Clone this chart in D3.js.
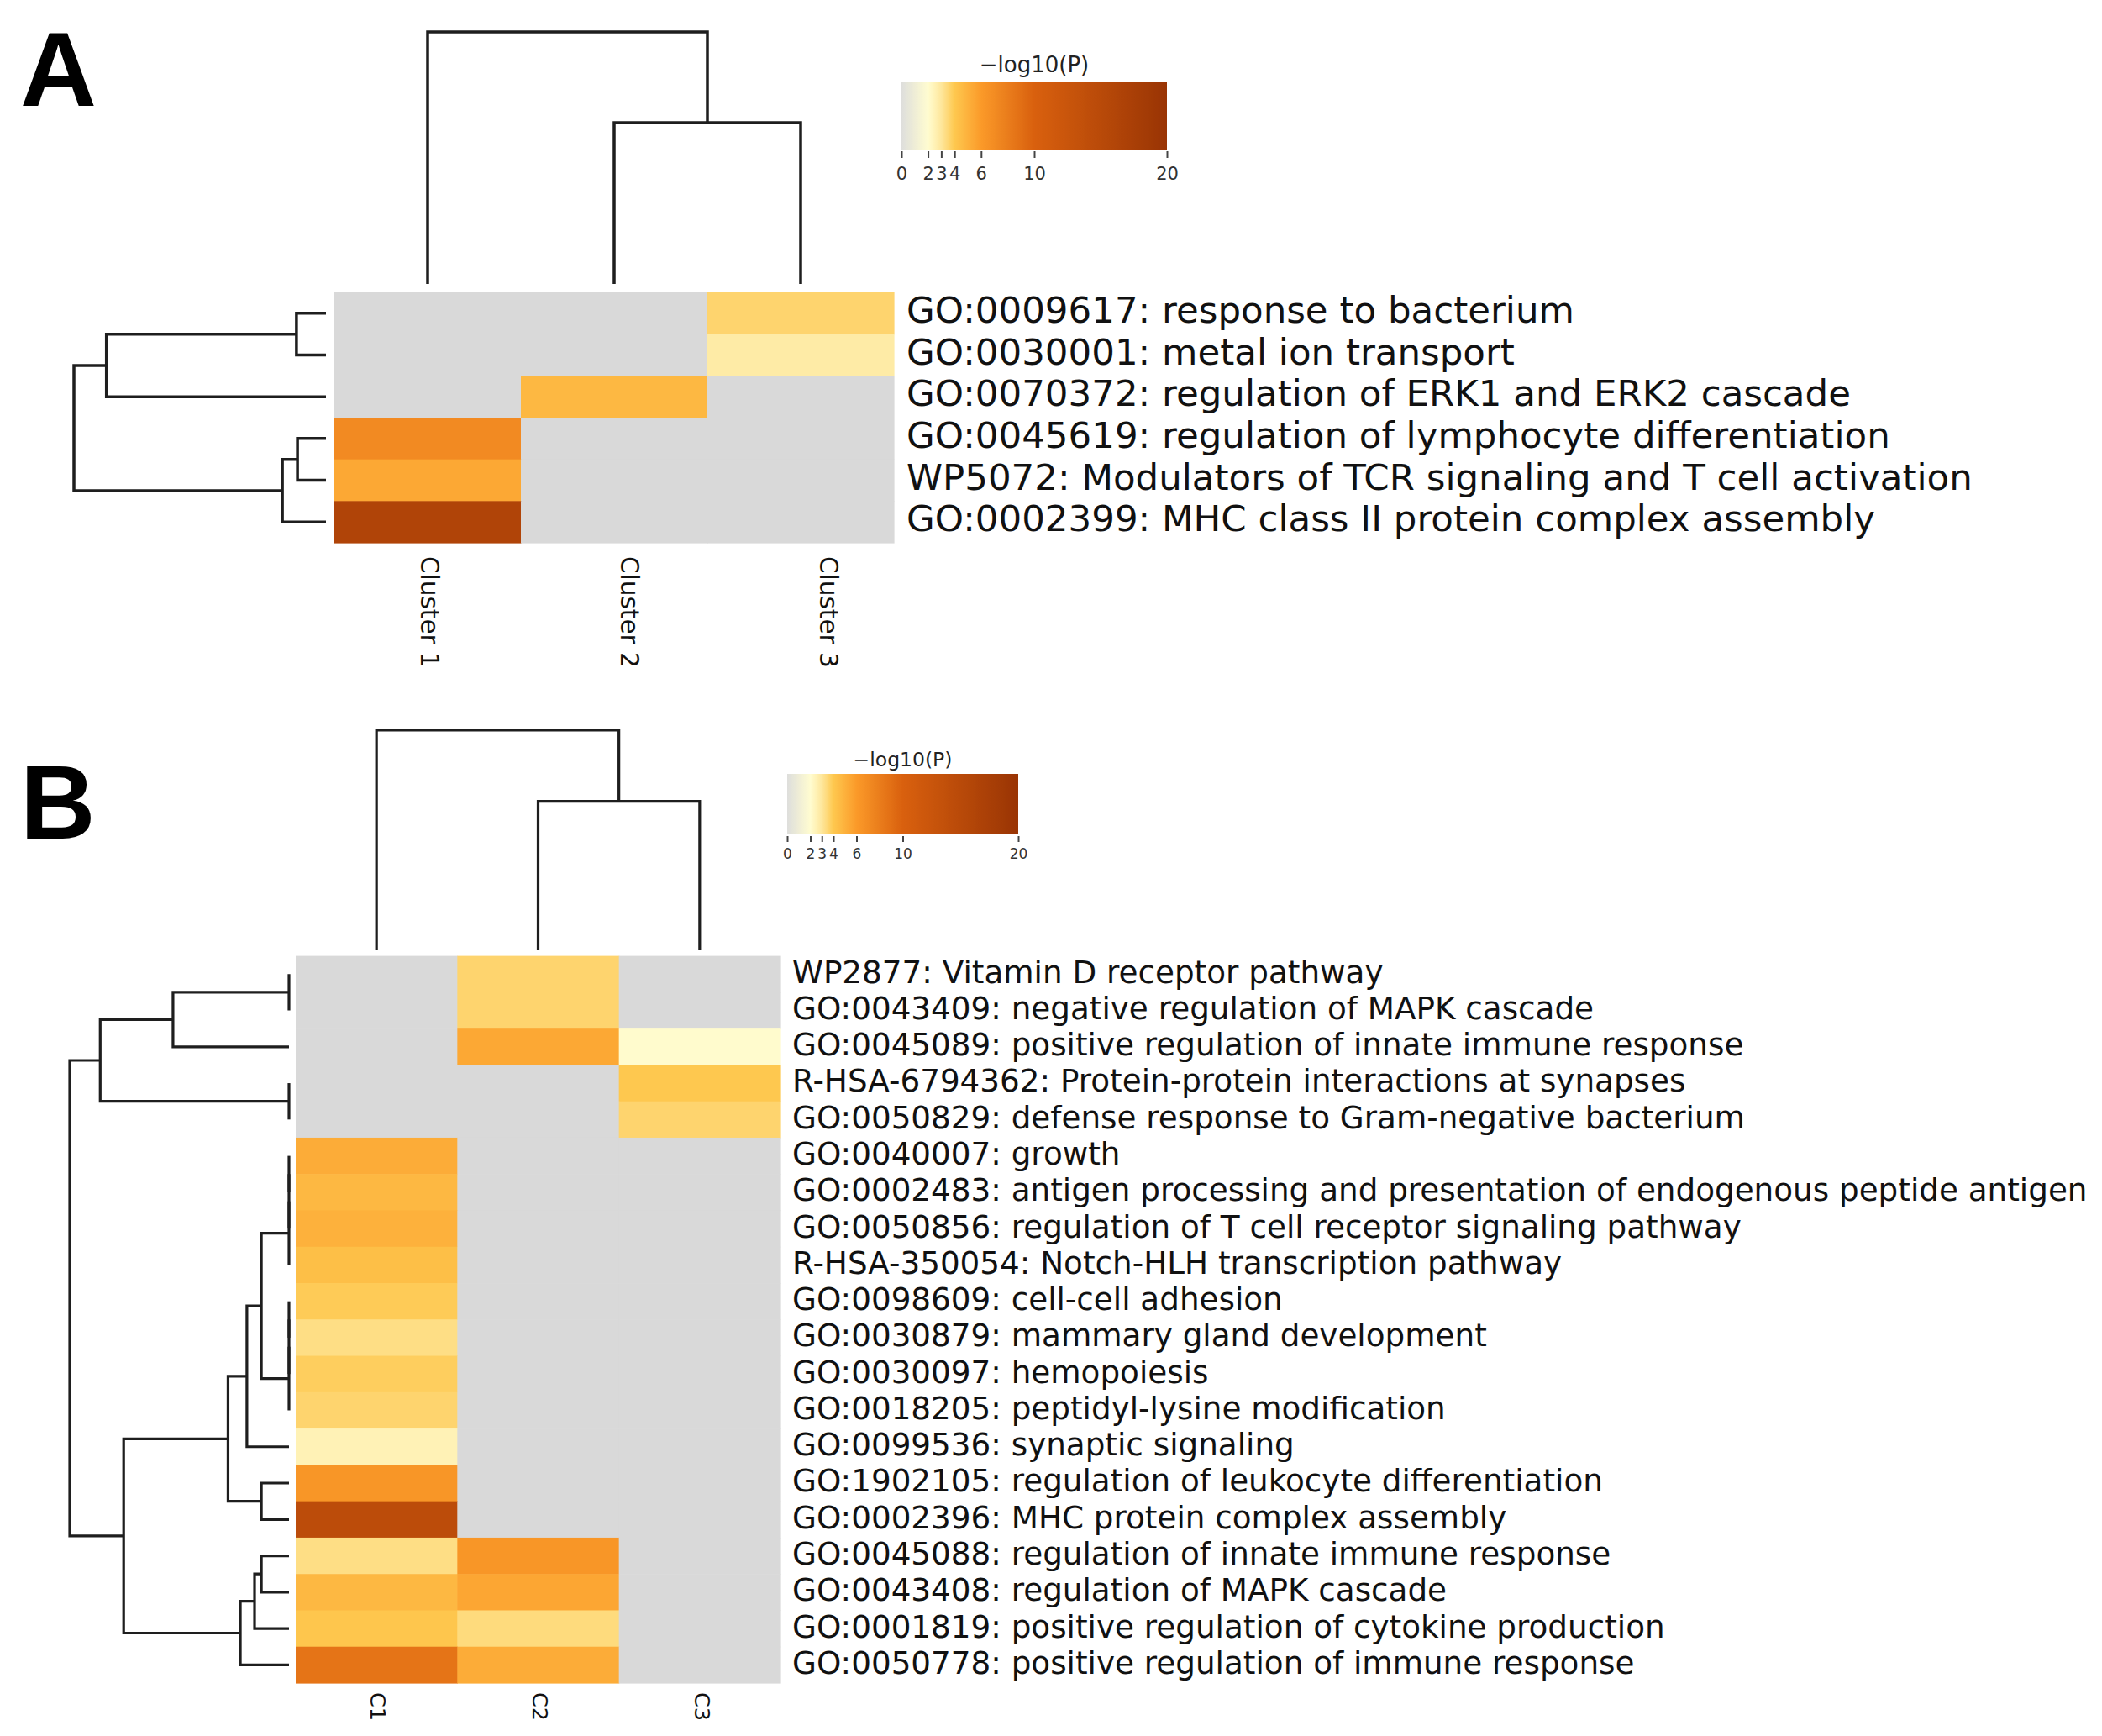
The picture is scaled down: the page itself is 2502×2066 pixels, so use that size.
<!DOCTYPE html>
<html>
<head>
<meta charset="utf-8">
<script src="https://cdn.jsdelivr.net/npm/d3@7"></script>
<style>
  html, body { margin: 0; padding: 0; background: #ffffff; }
  svg { display: block; }
</style>
</head>
<body>
<div id="chart"></div>
<script>
// ---------------- DATA ----------------
// colour map (-log10 P)
const colorDomain = [0, 2, 3, 4, 6, 10, 20];
const colorRange = ['#dededc', '#fffcd0', '#fee79c', '#fec84f', '#fb9a29', '#d9600e', '#993404'];
const missingColor = '#d9d9d9';
const colorbarTicks = [0, 2, 3, 4, 6, 10, 20];
const colorbarTitle = '\u2212log10(P)';

// Panel A
const clustersA = ['Cluster 1', 'Cluster 2', 'Cluster 3'];
const termsA = [
  'GO:0009617: response to bacterium',
  'GO:0030001: metal ion transport',
  'GO:0070372: regulation of ERK1 and ERK2 cascade',
  'GO:0045619: regulation of lymphocyte differentiation',
  'WP5072: Modulators of TCR signaling and T cell activation',
  'GO:0002399: MHC class II protein complex assembly'
];
const valuesA = [
  [null, null, 3.6],
  [null, null, 2.8],
  [null, 4.7, null],
  [7.1, null, null],
  [5.4, null, null],
  [16.4, null, null]
];
// linkage: [childA, childB, height]  (children >= n refer to earlier merges)
const rowLinkA = [[0, 1, 0.117], [3, 4, 0.113], [6, 2, 0.871], [7, 5, 0.173], [8, 9, 1.0]];
const colLinkA = [[1, 2, 0.640], [0, 3, 1.0]];

// Panel B
const clustersB = ['C1', 'C2', 'C3'];
const termsB = [
  'WP2877: Vitamin D receptor pathway',
  'GO:0043409: negative regulation of MAPK cascade',
  'GO:0045089: positive regulation of innate immune response',
  'R-HSA-6794362: Protein-protein interactions at synapses',
  'GO:0050829: defense response to Gram-negative bacterium',
  'GO:0040007: growth',
  'GO:0002483: antigen processing and presentation of endogenous peptide antigen',
  'GO:0050856: regulation of T cell receptor signaling pathway',
  'R-HSA-350054: Notch-HLH transcription pathway',
  'GO:0098609: cell-cell adhesion',
  'GO:0030879: mammary gland development',
  'GO:0030097: hemopoiesis',
  'GO:0018205: peptidyl-lysine modification',
  'GO:0099536: synaptic signaling',
  'GO:1902105: regulation of leukocyte differentiation',
  'GO:0002396: MHC protein complex assembly',
  'GO:0045088: regulation of innate immune response',
  'GO:0043408: regulation of MAPK cascade',
  'GO:0001819: positive regulation of cytokine production',
  'GO:0050778: positive regulation of immune response'
];
const valuesB = [
  [null, 3.6, null],
  [null, 3.6, null],
  [null, 5.4, 2.05],
  [null, null, 4.0],
  [null, null, 3.6],
  [5.2, null, null],
  [4.7, null, null],
  [5.0, null, null],
  [4.4, null, null],
  [3.9, null, null],
  [3.3, null, null],
  [3.8, null, null],
  [3.6, null, null],
  [2.5, null, null],
  [6.3, null, null],
  [14.5, null, null],
  [3.3, 6.3, null],
  [4.7, 5.5, null],
  [4.1, 3.4, null],
  [8.6, 5.2, null]
];
const rowLinkB = [
  [0, 1, 0], [20, 2, 0.529], [3, 4, 0], [21, 22, 0.861],
  [5, 6, 0], [24, 7, 0], [25, 8, 0], [9, 10, 0], [27, 11, 0], [28, 12, 0],
  [26, 29, 0.126], [30, 13, 0.192], [14, 15, 0.126], [31, 32, 0.278],
  [16, 17, 0.126], [34, 18, 0.157], [35, 19, 0.222], [33, 36, 0.754], [23, 37, 1.0]
];
const colLinkB = [[1, 2, 0.677], [0, 3, 1.0]];

// ---------------- DRAWING ----------------
const W = 2502, H = 2066;
const FONT = "'DejaVu Sans', sans-serif";
const svg = d3.select('#chart').append('svg').attr('width', W).attr('height', H)
  .style('background', '#ffffff');

const color = d3.scaleLinear().domain(colorDomain).range(colorRange).interpolate(d3.interpolateRgb).clamp(true);

function drawDendro(g, linkage, leafPos, hScale, orient, strokeW) {
  const pos = leafPos.slice();
  const hts = leafPos.map(() => 0);
  linkage.forEach(([a, b, h]) => {
    const pa = pos[a], pb = pos[b];
    const HA = hScale(hts[a]), HB = hScale(hts[b]), HH = hScale(h);
    const d = orient === 'left'
      ? `M${HA},${pa}H${HH}V${pb}H${HB}`
      : `M${pa},${HA}V${HH}H${pb}V${HB}`;
    g.append('path').attr('d', d).attr('fill', 'none')
      .attr('stroke', '#1e1e1e').attr('stroke-width', strokeW);
    pos.push((pa + pb) / 2);
    hts.push(h);
  });
}

function drawPanel(p) {
  const g = svg.append('g');
  const x = d3.scaleBand().domain(p.clusters).range([p.hx0, p.hx1]);
  const y = d3.scaleBand().domain(p.terms).range([p.hy0, p.hy1]);

  // cells
  p.values.forEach((row, i) => {
    row.forEach((v, j) => {
      g.append('rect')
        .attr('x', x(p.clusters[j])).attr('y', y(p.terms[i]))
        .attr('width', x.bandwidth() + 0.6).attr('height', y.bandwidth() + 0.6)
        .attr('fill', v == null ? missingColor : color(v));
    });
  });

  // row labels
  g.selectAll('text.row').data(p.terms).enter().append('text')
    .attr('class', 'row')
    .attr('x', p.hx1 + p.labelGap)
    .attr('y', d => y(d) + y.bandwidth() / 2)
    .attr('dy', p.rowDy)
    .attr('font-family', FONT).attr('font-size', p.rowFont).attr('fill', '#111')
    .text(d => d);

  // column labels (rotated)
  const lx = d3.scalePoint().domain(p.clusters).range(p.colLabelRange);
  g.selectAll('text.col').data(p.clusters).enter().append('text')
    .attr('class', 'col')
    .attr('transform', d => `translate(${lx(d)},${p.hy1 + p.colLabelGap}) rotate(90)`)
    .attr('dy', '0.36em')
    .attr('font-family', FONT).attr('font-size', p.colFont).attr('fill', '#111')
    .text(d => d);

  // row dendrogram
  const rowLeaf = p.terms.map(t => y(t) + y.bandwidth() / 2);
  const rh = d3.scaleLinear().domain([0, 1]).range([p.rowLeafX, p.rowRootX]);
  drawDendro(g, p.rowLink, rowLeaf, rh, 'left', p.dendroW);

  // column dendrogram
  const colLeaf = p.clusters.map(c => x(c) + x.bandwidth() / 2);
  const ch = d3.scaleLinear().domain([0, 1]).range([p.colLeafY, p.colRootY]);
  drawDendro(g, p.colLink, colLeaf, ch, 'top', p.dendroW);

  // colorbar
  const cb = p.cb;
  const cx = d3.scaleLinear().domain([colorbarTicks[0], colorbarTicks[colorbarTicks.length - 1]]).range([cb.x0, cb.x1]);
  const gradId = 'grad' + p.id;
  const grad = svg.append('defs').append('linearGradient').attr('id', gradId)
    .attr('x1', '0%').attr('x2', '100%').attr('y1', '0%').attr('y2', '0%');
  d3.range(0, 20.01, 0.25).forEach(v => {
    grad.append('stop').attr('offset', (v / 20 * 100) + '%').attr('stop-color', color(v));
  });
  g.append('rect').attr('x', cb.x0).attr('y', cb.y0).attr('width', cb.x1 - cb.x0).attr('height', cb.y1 - cb.y0)
    .attr('fill', `url(#${gradId})`);
  g.append('text').attr('x', (cb.x0 + cb.x1) / 2).attr('y', cb.y0 - cb.titleGap)
    .attr('text-anchor', 'middle').attr('font-family', FONT).attr('font-size', cb.titleFont).attr('fill', '#222')
    .text(colorbarTitle);
  const axis = d3.axisBottom(cx).tickValues(colorbarTicks).tickSize(cb.tickLen).tickPadding(cb.tickPad)
    .tickFormat(d3.format('d'));
  const ag = g.append('g').attr('transform', `translate(0,${cb.y1 + 2})`).call(axis);
  ag.select('.domain').remove();
  ag.selectAll('line').attr('stroke', '#444').attr('stroke-width', 2);
  ag.selectAll('text').attr('font-family', FONT).attr('font-size', cb.tickFont).attr('fill', '#333');

  // panel letter
  g.append('text').attr('x', p.letterX).attr('y', p.letterY)
    .attr('font-family', "'Liberation Sans', Arial, sans-serif").attr('font-weight', 'bold')
    .attr('font-size', p.letterFont).attr('fill', '#000').text(p.letter);
}

drawPanel({
  id: 'A', letter: 'A', letterX: 24, letterY: 126, letterFont: 126,
  clusters: clustersA, terms: termsA, values: valuesA, rowLink: rowLinkA, colLink: colLinkA,
  hx0: 398, hx1: 1064, hy0: 348, hy1: 646,
  labelGap: 15, rowFont: 43.5, rowDy: '0.26em', colFont: 29.5, colLabelGap: 16, colLabelRange: [512, 987],
  rowLeafX: 388, rowRootX: 88, colLeafY: 338, colRootY: 38, dendroW: 3.5,
  cb: { x0: 1073, x1: 1389, y0: 97, y1: 178, titleGap: 11, titleFont: 26, tickLen: 8, tickPad: 11, tickFont: 21 }
});

drawPanel({
  id: 'B', letter: 'B', letterX: 24, letterY: 998, letterFont: 124,
  clusters: clustersB, terms: termsB, values: valuesB, rowLink: rowLinkB, colLink: colLinkB,
  hx0: 352, hx1: 929, hy0: 1137.6, hy1: 2003,
  labelGap: 14, rowFont: 37.3, rowDy: '0.28em', colFont: 25.5, colLabelGap: 11, colLabelRange: [450, 836],
  rowLeafX: 344, rowRootX: 83, colLeafY: 1131, colRootY: 869, dendroW: 3.2,
  cb: { x0: 937, x1: 1212, y0: 921, y1: 993, titleGap: 9, titleFont: 23.5, tickLen: 7, tickPad: 8, tickFont: 17 }
});
</script>
</body>
</html>
